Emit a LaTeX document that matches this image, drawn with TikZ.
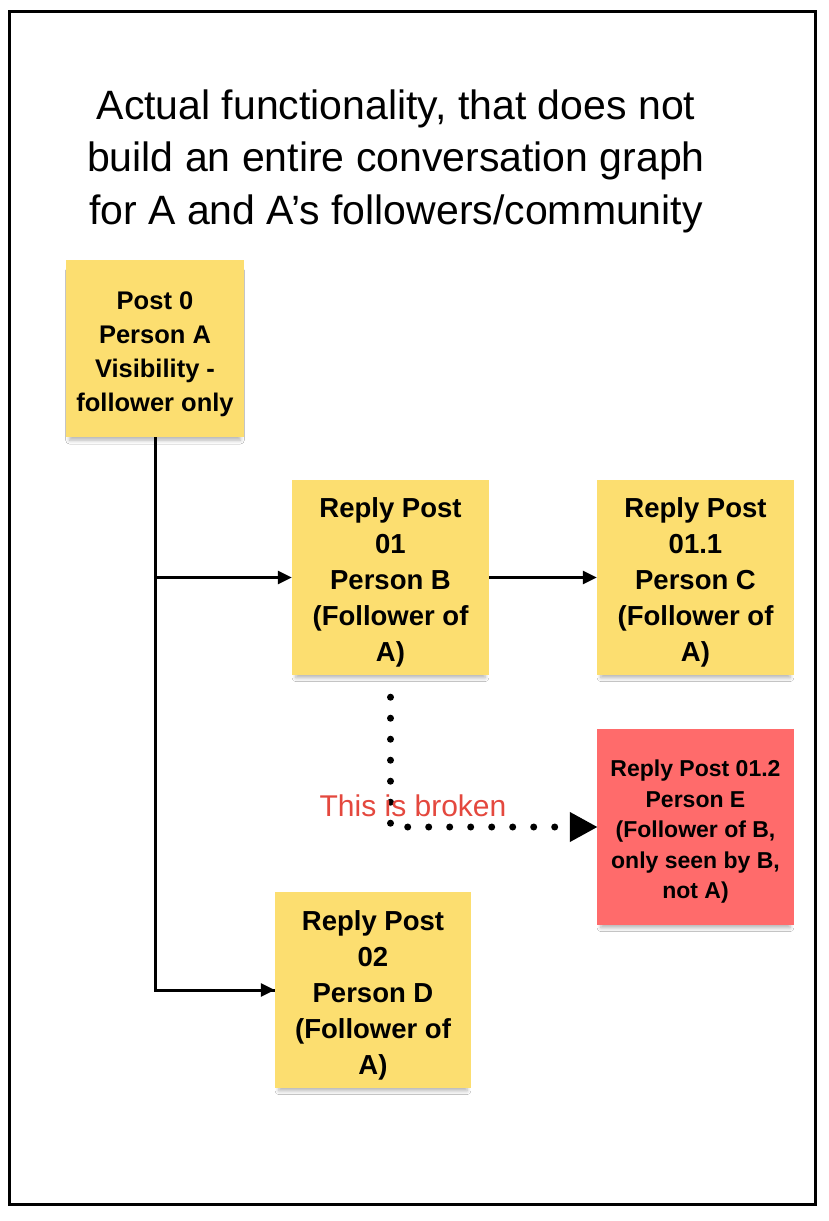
\documentclass[tikz,border=0pt]{standalone}
\usepackage{fontspec}
\setmainfont{Liberation Sans}
\usetikzlibrary{arrows.meta,shadows.blur}
\definecolor{sticky}{RGB}{252,222,112}
\definecolor{stickyred}{RGB}{255,107,107}
\definecolor{brokenred}{RGB}{228,72,62}
\newcommand{\topstrut}[1]{\rule{0pt}{#1}}
\tikzset{
  note/.style={fill=sticky, draw=none, align=center, inner sep=0pt,
    font=\bfseries\fontsize{27.5pt}{36pt}\selectfont,
    blur shadow={shadow xshift=0pt, shadow yshift=-7pt, shadow scale=0.96,
      shadow blur radius=4pt, shadow blur steps=6, shadow opacity=30}},
  firstnote/.style={note, font=\bfseries\fontsize{25.5pt}{34pt}\selectfont},
  rednote/.style={note, fill=stickyred, font=\bfseries\fontsize{23pt}{30.5pt}\selectfont},
  conn/.style={line width=3pt, -{Triangle[length=14pt,width=13pt]}},
  plainconn/.style={line width=3pt},
  brokenconn/.style={line width=7pt, line cap=round, dash pattern=on 0pt off 21pt,
    -{Triangle[length=28pt,width=28pt]}, shorten >=-1pt},
}
\begin{document}
\begin{tikzpicture}[x=1pt,y=-1pt]
\useasboundingbox (0,0) rectangle (828,1221);
\fill[white] (0,0) rectangle (828,1221);
\draw[line width=3pt] (9.5,11.5) rectangle (815,1204);

\node[font=\fontsize{41pt}{52.5pt}\selectfont, align=center] (title) at (396,161)
  {Actual functionality, that does not\\build an entire conversation graph\\for A and A’s followers/community};

\node[firstnote, minimum width=178pt, minimum height=177pt] (p0) at (155,348.5)
  {\topstrut{30pt}Post 0\\Person A\\Visibility -\\follower only};
\node[note, minimum width=197pt, minimum height=195pt] (r01) at (390.5,577.5)
  {\topstrut{30pt}Reply Post\\01\\Person B\\(Follower of\\A)};
\node[note, minimum width=197pt, minimum height=195pt] (r011) at (695.5,577.5)
  {\topstrut{30pt}Reply Post\\01.1\\Person C\\(Follower of\\A)};
\node[rednote, minimum width=197pt, minimum height=196pt] (r012) at (695.5,827)
  {\topstrut{26pt}Reply Post 01.2\\Person E\\(Follower of B,\\only seen by B,\\not A)};
\node[note, minimum width=196pt, minimum height=196pt] (r02) at (373,990)
  {\topstrut{30pt}Reply Post\\02\\Person D\\(Follower of\\A)};

\draw[plainconn] (p0.south) |- (r02.west);
\draw[conn] (r02.west -| p0.south) -- (r02.west);
\draw[conn] (r01.west -| p0.south) -- (r01.west);
\draw[conn] (r01.east) -- (r011.west);

\coordinate (bstart) at ([yshift=-22pt]r01.south);
\draw[brokenconn] (bstart) |- (r012.west);

\node[text=brokenred, font=\fontsize{30pt}{34pt}\selectfont] (broken) at (413,806) {This is broken};
\end{tikzpicture}
\end{document}
